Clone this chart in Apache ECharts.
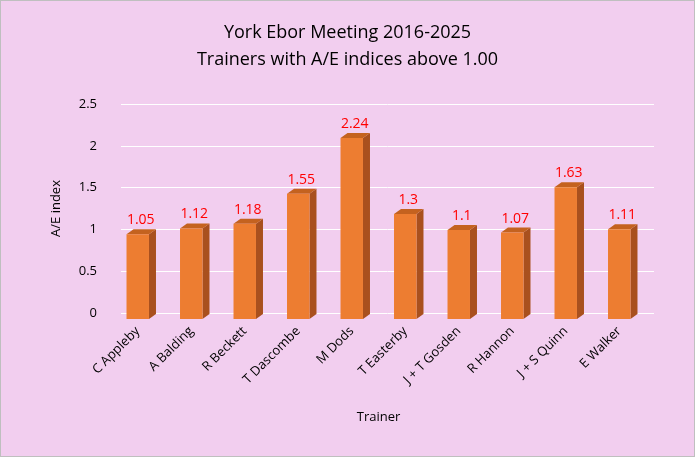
<!DOCTYPE html>
<html><head><meta charset="utf-8">
<script src="https://cdn.jsdelivr.net/npm/echarts@6/dist/echarts.min.js"></script>
<style>html,body{margin:0;padding:0;background:#F2CEEF}#c{width:695px;height:457px;box-sizing:border-box;border:1px solid #bfbfbf}</style>
</head><body><div id="c"></div>
<script>
const categories=["C Appleby","A Balding","R Beckett","T Dascombe","M Dods","T Easterby","J + T Gosden","R Hannon","J + S Quinn","E Walker"];
const values=[1.05,1.12,1.18,1.55,2.24,1.3,1.1,1.07,1.63,1.11];
const yTicks=[0,0.5,1,1.5,2,2.5];
const chart=echarts.init(document.getElementById('c'));
const DX=7,DY=-5;
chart.setOption({
  backgroundColor:'#F2CEEF',
  animation:false,
  title:{text:'York Ebor Meeting 2016-2025\nTrainers with A/E indices above 1.00',left:'center',top:13,
    textStyle:{fontFamily:'Open Sans, Liberation Sans',fontSize:18,fontWeight:'normal',color:'#000',lineHeight:27}},
  grid:[{left:110,right:48,top:116,bottom:137},{left:120,right:40,top:103,bottom:143}],
  xAxis:[{type:'category',data:categories,gridIndex:0,axisLine:{show:false},axisTick:{show:false},
    axisLabel:{rotate:45,fontFamily:'Open Sans, Liberation Sans',fontSize:13,color:'#000',margin:10},
    name:'Trainer',nameLocation:'middle',nameGap:92,nameTextStyle:{fontFamily:'Open Sans, Liberation Sans',fontSize:13,color:'#000'}},
    {type:'category',data:categories,gridIndex:1,show:false}],
  yAxis:[{type:'value',min:0,max:2.5,interval:0.5,gridIndex:0,show:false},
    {type:'value',min:0,max:2.5,interval:0.5,gridIndex:1,axisLine:{show:false},
    axisLabel:{fontFamily:'Open Sans, Liberation Sans',fontSize:13,color:'#000',margin:24,formatter:v=>String(v)},
    name:'A/E index',nameLocation:'middle',nameGap:58,nameTextStyle:{fontFamily:'Open Sans, Liberation Sans',fontSize:13,color:'#000'},
    splitLine:{lineStyle:{color:'#ffffff',width:1}}}],
  series:[{type:'custom',xAxisIndex:0,yAxisIndex:0,data:values.map((v,i)=>[i,v]),
    renderItem:function(params,api){
      const i=api.value(0),v=api.value(1);
      const top=api.coord([i,v]),bot=api.coord([i,0]);
      const w=api.size([1,0])[0]*0.42;
      const x0=top[0]-w/2,x1=top[0]+w/2,yt=top[1],yb=bot[1];
      return {type:'group',children:[
        {type:'polygon',shape:{points:[[x1,yt],[x1+DX,yt+DY],[x1+DX,yb+DY],[x1,yb]]},style:{fill:'#A9501E'}},
        {type:'polygon',shape:{points:[[x0,yt],[x0+DX,yt+DY],[x1+DX,yt+DY],[x1,yt]]},style:{fill:'#C4621F'}},
        {type:'rect',shape:{x:x0,y:yt,width:w,height:yb-yt},style:{fill:'#ED7D31'}},
        {type:'text',style:{text:String(v),x:top[0]+3,y:yt-7,align:'center',verticalAlign:'bottom',
          fill:'#FF0000',font:'14px "Open Sans", "Liberation Sans"'}}
      ]};
    }},
    {type:'bar',xAxisIndex:1,yAxisIndex:1,data:[],silent:true}]
});
</script></body></html>
